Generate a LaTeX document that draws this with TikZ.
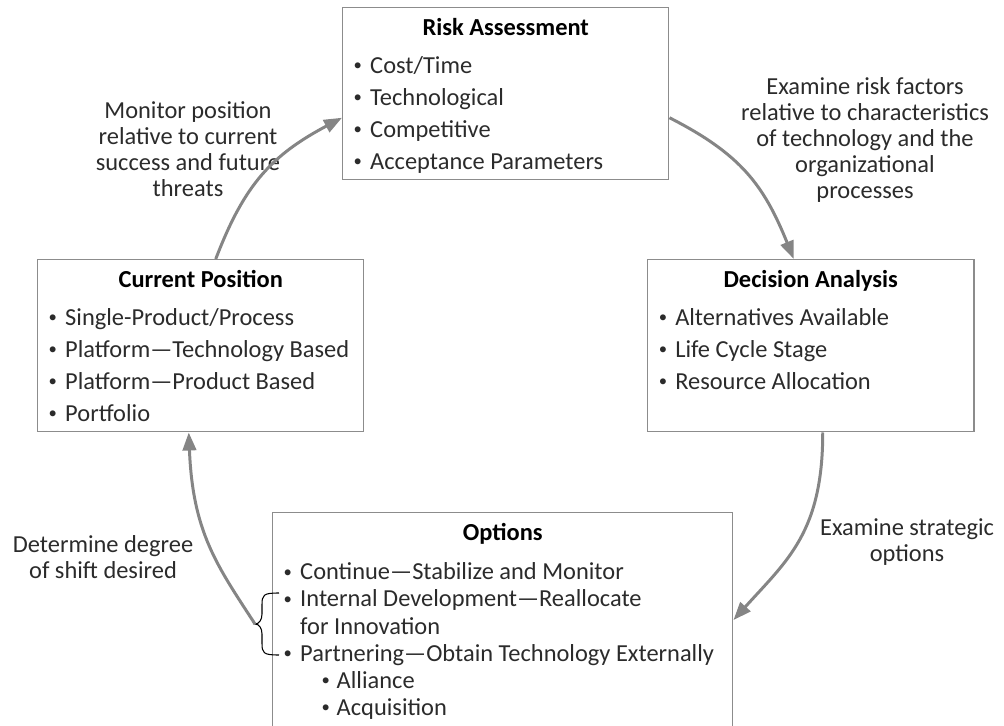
\documentclass[tikz,border=0pt]{standalone}
\usepackage{fontspec}
\setmainfont{Carlito}
\usetikzlibrary{arrows.meta,positioning,calc}
\definecolor{linegray}{HTML}{8C8C8C}
\definecolor{arrowgray}{HTML}{858585}
\definecolor{textgray}{HTML}{2B2B2B}
\newcommand{\dotmark}{\raisebox{0.1em}{\fontsize{9.5}{9.5}\selectfont\textbullet}}
\newcommand{\stagehead}[2][3pt]{{\centering\bfseries\color{black}#2\par}\vspace{#1}}
\newcommand{\stageitem}[1]{\par\hangindent=0.33cm\hangafter=1\noindent\makebox[0.33cm][l]{\dotmark}#1}
\newcommand{\stagesub}[1]{\par\noindent\hspace{0.76cm}\makebox[0.3cm][l]{\dotmark}#1}
\newcommand{\stagebody}[3]{\parbox[t][#1][t]{#2}{#3}}
\tikzset{
  stage/.style={draw=linegray, line width=0.85pt, inner sep=0.22cm, anchor=north west, text=textgray, font=\fontsize{13.9}{18.2}\selectfont},
  optstage/.style={stage, font=\fontsize{13.9}{15.4}\selectfont},
  note/.style={align=center, text=textgray, font=\fontsize{13.9}{14.8}\selectfont},
  flow/.style={-{Triangle[length=0.36cm, width=0.27cm]}, draw=arrowgray, line width=1.7pt},
  bracket/.style={draw=black, line width=0.6pt}
}

\begin{document}
\begin{tikzpicture}
\useasboundingbox (0,0) rectangle (20.08,-14.52);
\clip (0,0) rectangle (20.08,-14.52);

\node[stage] (risk) at (6.84,-0.14) {\stagebody{3.0cm}{6.08cm}{\stagehead{Risk Assessment}
  \stageitem{Cost/Time}\stageitem{Technological}\stageitem{Competitive}\stageitem{Acceptance Parameters}}};
\node[stage] (current) at (0.74,-5.18) {\stagebody{3.0cm}{6.08cm}{\stagehead{Current Position}
  \stageitem{Single-Product/Process}\stageitem{Platform---Technology Based}\stageitem{Platform---Product Based}\stageitem{Portfolio}}};
\node[stage] (decision) at (12.94,-5.18) {\stagebody{3.0cm}{6.08cm}{\stagehead{Decision Analysis}
  \stageitem{Alternatives Available}\stageitem{Life Cycle Stage}\stageitem{Resource Allocation}}};
\node[optstage] (options) at (5.44,-10.24) {\stagebody{5cm}{8.76cm}{\stagehead[6.8pt]{Options}
  \stageitem{Continue---Stabilize and Monitor}\stageitem{Internal Development---Reallocate\\for Innovation}
  \stageitem{Partnering---Obtain Technology Externally}\stagesub{Alliance}\stagesub{Acquisition}}};

\node[note] (monitor) at (3.76,-2.98) {Monitor position\\relative to current\\success and future\\threats};
\node[note] (riskfactors) at (17.30,-2.80) {Examine risk factors\\relative to characteristics\\of technology and the\\organizational\\processes};
\node[note] (strategic) at (18.14,-10.84) {Examine strategic\\options};
\node[note] (shift) at (2.06,-11.14) {Determine degree\\of shift desired};

\coordinate (bracetip) at (5.10,-12.48);
\draw[bracket] (5.58,-11.86) .. controls (5.26,-11.86) and (5.24,-11.90) .. (5.24,-12.10) -- (5.24,-12.28)
  .. controls (5.24,-12.40) and (5.18,-12.48) .. (bracetip)
  .. controls (5.18,-12.48) and (5.24,-12.56) .. (5.24,-12.68) -- (5.24,-12.86)
  .. controls (5.24,-13.06) and (5.26,-13.10) .. (5.58,-13.10);

\draw[flow] ([xshift=0.3cm]current.north) .. controls +(0.57,1.49) and +(-1.41,-0.75) .. ([yshift=-0.48cm]risk.west);
\draw[flow] ([yshift=-0.48cm]risk.east) .. controls +(1.43,-0.73) and +(-0.6,1.48) .. ([xshift=-0.34cm]decision.north);
\draw[flow] ([xshift=0.24cm]decision.south) .. controls +(0,-2.0) and +(1.07,1.19) .. ([yshift=-2.16cm]options.north east);
\draw[flow] (bracetip) .. controls +(-0.76,1.17) and +(0.08,-2.0) .. ([xshift=-0.24cm]current.south);
\end{tikzpicture}
\end{document}
